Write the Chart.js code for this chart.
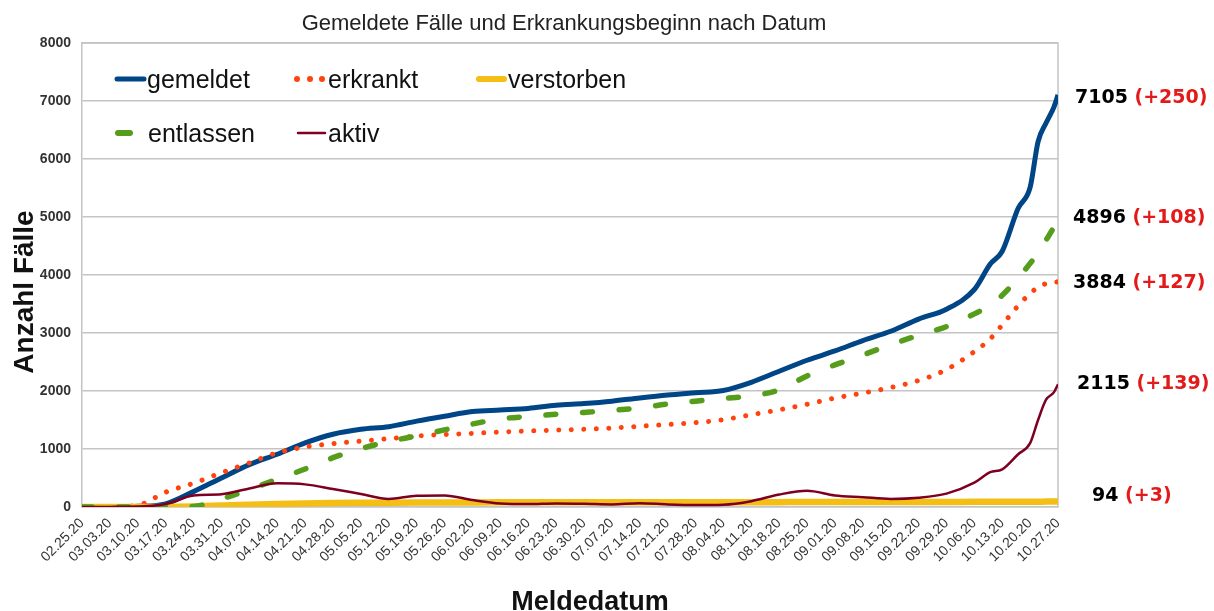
<!DOCTYPE html>
<html><head><meta charset="utf-8">
<script src="https://cdn.jsdelivr.net/npm/chart.js@4"></script>
<style>html,body{margin:0;padding:0;background:#fff}#wrap{width:1214px;height:611px;position:relative}</style>
</head><body><div id="wrap"><canvas id="c"></canvas></div>
<script>
// day index since 02.25.20
const days = [0,7,14,21,28,35,42,49,56,63,70,77,84,91,98,105,112,119,126,133,140,147,154,161,168,175,182,189,196,203,210,217,224,228,231,235,238,240,242,244,245];
const tickLabels = ['02.25.20','03.03.20','03.10.20','03.17.20','03.24.20','03.31.20','04.07.20','04.14.20','04.21.20','04.28.20','05.05.20','05.12.20','05.19.20','05.26.20','06.02.20','06.09.20','06.16.20','06.23.20','06.30.20','07.07.20','07.14.20','07.21.20','07.28.20','08.04.20','08.11.20','08.18.20','08.25.20','09.01.20','09.08.20','09.15.20','09.22.20','09.29.20','10.06.20','10.13.20','10.20.20','10.27.20'];
const yTicks = [0,1000,2000,3000,4000,5000,6000,7000,8000];

const gemeldet   = [2,5,12,55,265,500,730,910,1105,1255,1340,1385,1480,1565,1645,1672,1700,1755,1785,1825,1880,1930,1970,2010,2150,2340,2530,2690,2870,3030,3240,3410,3750,4190,4410,5150,5510,6300,6620,6900,7105];
const erkrankt   = [0,5,30,255,410,590,760,935,1035,1092,1137,1178,1225,1250,1270,1292,1310,1326,1340,1362,1392,1422,1455,1505,1590,1676,1770,1878,1965,2060,2180,2370,2680,2900,3140,3470,3680,3790,3850,3875,3884];
const verstorben = [0,0,0,2,10,25,40,52,62,68,72,75,77,78,79,80,80,80,81,81,81,82,82,82,83,84,85,85,86,86,87,88,89,90,91,91,92,92,93,93,94];
const entlassen  = [0,0,0,0,10,140,300,480,655,850,1005,1130,1225,1330,1430,1520,1560,1598,1630,1665,1710,1775,1825,1870,1915,2020,2260,2450,2620,2800,2960,3110,3330,3480,3650,3950,4200,4380,4600,4820,4896];
const aktiv      = [0,2,8,50,200,220,320,408,390,310,225,140,195,200,120,60,50,60,55,45,65,45,35,40,100,215,280,200,170,140,160,230,420,600,650,910,1100,1500,1850,1980,2115];

const endValues = [7105, 4896, 3884, 2115, 94];
const endDeltas = ['(+250)', '(+108)', '(+127)', '(+139)', '(+3)'];

const pts = arr => arr.map((v, i) => ({x: days[i], y: v}));

const overlay = {
  id: 'overlay',
  beforeDatasetsDraw(chart) {
    const {ctx, chartArea: a} = chart;
    ctx.save();
    ctx.strokeStyle = '#c4c4c4'; ctx.lineWidth = 1.5;
    ctx.beginPath(); ctx.moveTo(a.left, a.top); ctx.lineTo(a.right, a.top); ctx.lineTo(a.right, a.bottom); ctx.stroke();
    ctx.restore();
  },
  afterDraw(chart) {
    const {ctx, scales: {y}} = chart;
    ctx.save();
    // title
    ctx.fillStyle = '#222';
    ctx.font = '22px "Liberation Sans", Arial, sans-serif';
    ctx.textAlign = 'center'; ctx.textBaseline = 'alphabetic';
    ctx.fillText('Gemeldete Fälle und Erkrankungsbeginn nach Datum', 564, 30);
    // y title
    ctx.save();
    ctx.translate(33, 292); ctx.rotate(-Math.PI / 2);
    ctx.fillStyle = '#111';
    ctx.font = 'bold 28px "Liberation Sans", Arial, sans-serif';
    ctx.fillText('Anzahl Fälle', 0, 0);
    ctx.restore();
    // x title
    ctx.fillStyle = '#111';
    ctx.font = 'bold 27px "Liberation Sans", Arial, sans-serif';
    ctx.fillText('Meldedatum', 590, 610);
    // legend
    ctx.textAlign = 'left';
    ctx.font = '25px "Liberation Sans", Arial, sans-serif';
    ctx.lineCap = 'round';
    ctx.strokeStyle = '#004586'; ctx.lineWidth = 5;
    ctx.beginPath(); ctx.moveTo(117, 79); ctx.lineTo(144, 79); ctx.stroke();
    ctx.fillStyle = '#111'; ctx.fillText('gemeldet', 147, 88);
    ctx.fillStyle = '#ff420e';
    [297, 310, 322].forEach(x => { ctx.beginPath(); ctx.arc(x, 79, 3, 0, Math.PI * 2); ctx.fill(); });
    ctx.fillStyle = '#111'; ctx.fillText('erkrankt', 328, 88);
    ctx.strokeStyle = '#f5be14'; ctx.lineWidth = 6;
    ctx.beginPath(); ctx.moveTo(479, 79); ctx.lineTo(504, 79); ctx.stroke();
    ctx.fillStyle = '#111'; ctx.fillText('verstorben', 508, 88);
    ctx.strokeStyle = '#579d1c'; ctx.lineWidth = 6;
    ctx.beginPath(); ctx.moveTo(118, 133); ctx.lineTo(130, 133); ctx.stroke();
    ctx.fillStyle = '#111'; ctx.fillText('entlassen', 148, 142);
    ctx.strokeStyle = '#7e0021'; ctx.lineWidth = 2.5;
    ctx.beginPath(); ctx.moveTo(298, 133); ctx.lineTo(325, 133); ctx.stroke();
    ctx.fillStyle = '#111'; ctx.fillText('aktiv', 328, 142);
    // end labels
    const lefts = [1075, 1073, 1073, 1077, 1092];
    const dy = [3, -5, 1, 0, -5];
    ctx.font = 'bold 19px "DejaVu Sans", sans-serif';
    ctx.textBaseline = 'middle';
    endValues.forEach((v, i) => {
      const py = y.getPixelForValue(v) + dy[i];
      const num = String(v) + ' ';
      ctx.fillStyle = '#000';
      ctx.fillText(num, lefts[i], py);
      const w = ctx.measureText(num).width;
      ctx.fillStyle = '#e31a1a';
      ctx.fillText(endDeltas[i], lefts[i] + w, py);
    });
    ctx.restore();
  }
};

new Chart(document.getElementById('c'), {
  type: 'line',
  data: {
    datasets: [
      {label: 'gemeldet', data: pts(gemeldet), borderColor: '#004586', borderWidth: 5, order: 5},
      {label: 'erkrankt', data: pts(erkrankt), borderColor: '#ff420e', borderWidth: 5, borderDash: [0.01, 12.5], borderCapStyle: 'round', order: 4},
      {label: 'verstorben', data: pts(verstorben), borderColor: '#f5be14', borderWidth: 6.5, order: 3},
      {label: 'entlassen', data: pts(entlassen), borderColor: '#579d1c', borderWidth: 5.5, borderDash: [10, 26.7], borderCapStyle: 'round', order: 2},
      {label: 'aktiv', data: pts(aktiv), borderColor: '#7e0021', borderWidth: 2.5, order: 1}
    ]
  },
  options: {
    responsive: true, maintainAspectRatio: false, animation: false,
    layout: {padding: {top: 43, right: 156, left: 0, bottom: 0}},
    elements: {point: {radius: 0}, line: {cubicInterpolationMode: 'monotone', fill: false, borderJoinStyle: 'round'}},
    plugins: {legend: {display: false}, tooltip: {enabled: false}, title: {display: false}},
    scales: {
      x: {
        type: 'linear', min: 0, max: 245,
        afterFit(s) { s.height = 104; },
        grid: {display: false, drawTicks: false},
        border: {display: true, color: '#c4c4c4', width: 1.5},
        ticks: {stepSize: 7, autoSkip: false, maxRotation: 45, minRotation: 45, padding: 8, color: '#333',
          font: {family: '"Liberation Sans", Arial, sans-serif', size: 14},
          callback: v => tickLabels[Math.round(v / 7)]}
      },
      y: {
        min: 0, max: 8000,
        afterFit(s) { s.width = 82; },
        afterBuildTicks(s) { s.ticks = yTicks.map(v => ({value: v})); },
        grid: {color: '#c4c4c4', lineWidth: 1.5, drawTicks: false},
        border: {display: true, color: '#c4c4c4', width: 1.5},
        ticks: {padding: 11, color: '#333', font: {family: '"Liberation Sans", Arial, sans-serif', size: 14, weight: 'bold'},
          callback: v => String(v)}
      }
    }
  },
  plugins: [overlay]
});
</script>
</body></html>
